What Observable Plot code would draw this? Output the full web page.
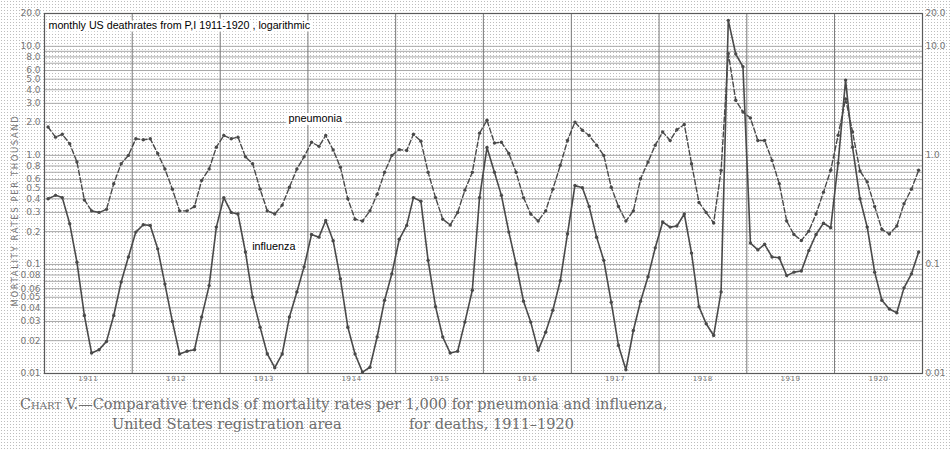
<!DOCTYPE html>
<html>
<head>
<meta charset="utf-8">
<script src="https://cdn.jsdelivr.net/npm/d3@7"></script>
<script src="https://cdn.jsdelivr.net/npm/@observablehq/plot@0.6"></script>
<style>
  html, body { margin: 0; padding: 0; }
  body {
    width: 950px; height: 450px; overflow: hidden;
    background-color: #ffffff;
    background-image: radial-gradient(circle, #bdbdbd 0.6px, rgba(255,255,255,0) 0.9px);
    background-size: 3px 3px;
  }
  #chart svg { display: block; }
  .ylab text { letter-spacing: 1.6px; }
  .yr text { letter-spacing: 0.6px; }
  #caption { position: relative; width: 950px; height: 60px; font-family: "DejaVu Serif", serif; color: #6f6f6f; font-size: 14.5px; }
  #caption div { position: absolute; white-space: nowrap; line-height: 15px; }
  .sc { font-variant: small-caps; }
</style>
</head>
<body>
<div id="chart"></div>
<div id="caption">
  <div style="left:20px; top:7px;"><span class="sc">Chart</span> V.—Comparative trends of mortality rates per 1,000 for pneumonia and influenza,</div>
  <div style="left:112px; top:27px;">United States registration area</div>
  <div style="left:409px; top:27px;">for deaths, 1911–1920</div>
</div>
<script>
// ---- data ----
const years = [1911, 1912, 1913, 1914, 1915, 1916, 1917, 1918, 1919, 1920];

// monthly pneumonia death rates per 1,000 (Jan..Dec per row)
const pneumonia = [
  [1.82, 1.47, 1.56, 1.28, 0.87, 0.39, 0.31, 0.30, 0.32, 0.55, 0.84, 1.00],
  [1.42, 1.39, 1.42, 1.04, 0.75, 0.49, 0.31, 0.31, 0.34, 0.59, 0.75, 1.19],
  [1.52, 1.42, 1.47, 0.97, 0.84, 0.49, 0.31, 0.29, 0.35, 0.51, 0.75, 0.97],
  [1.32, 1.21, 1.52, 1.12, 0.78, 0.40, 0.26, 0.25, 0.31, 0.44, 0.70, 1.00],
  [1.13, 1.11, 1.56, 1.35, 0.70, 0.41, 0.26, 0.23, 0.30, 0.48, 0.70, 1.60],
  [2.10, 1.30, 1.32, 1.04, 0.70, 0.41, 0.29, 0.25, 0.31, 0.49, 0.81, 1.37],
  [2.02, 1.70, 1.52, 1.24, 1.00, 0.51, 0.34, 0.25, 0.31, 0.61, 0.87, 1.24],
  [1.64, 1.37, 1.72, 1.92, 0.84, 0.37, 0.30, 0.24, 0.73, 8.60, 3.20, 2.50],
  [2.20, 1.37, 1.37, 0.90, 0.55, 0.25, 0.188, 0.166, 0.202, 0.29, 0.46, 0.73],
  [1.53, 3.30, 1.64, 0.72, 0.57, 0.34, 0.21, 0.19, 0.225, 0.36, 0.49, 0.73]
];

// monthly influenza death rates per 1,000 (Jan..Dec per row)
const influenza = [
  [0.40, 0.43, 0.41, 0.236, 0.105, 0.034, 0.0154, 0.0165, 0.0197, 0.034, 0.069, 0.117],
  [0.198, 0.231, 0.228, 0.139, 0.066, 0.030, 0.0151, 0.016, 0.0165, 0.033, 0.064, 0.22],
  [0.41, 0.30, 0.29, 0.13, 0.050, 0.0266, 0.0151, 0.0113, 0.0151, 0.033, 0.056, 0.095],
  [0.188, 0.178, 0.253, 0.165, 0.074, 0.0266, 0.0151, 0.0103, 0.0114, 0.0216, 0.047, 0.082],
  [0.17, 0.228, 0.41, 0.38, 0.109, 0.041, 0.0216, 0.0154, 0.016, 0.0296, 0.058, 0.41],
  [1.18, 0.70, 0.43, 0.198, 0.101, 0.046, 0.0296, 0.0163, 0.0239, 0.038, 0.071, 0.191],
  [0.53, 0.505, 0.34, 0.178, 0.109, 0.045, 0.0181, 0.0108, 0.0248, 0.046, 0.077, 0.142],
  [0.245, 0.22, 0.225, 0.29, 0.127, 0.041, 0.0286, 0.0223, 0.056, 17.3, 8.5, 6.5],
  [0.157, 0.136, 0.153, 0.117, 0.115, 0.079, 0.085, 0.087, 0.134, 0.188, 0.239, 0.217],
  [0.85, 4.90, 1.19, 0.40, 0.22, 0.085, 0.047, 0.039, 0.036, 0.061, 0.082, 0.13]
];

const leftTicks = [20, 10, 8, 6, 5, 4, 3, 2, 1, 0.8, 0.6, 0.5, 0.4, 0.3, 0.2, 0.1,
                   0.08, 0.06, 0.05, 0.04, 0.03, 0.02, 0.01];
const rightTicks = [20, 10, 1, 0.1, 0.01];
const gridMultipliers = [1, 2, 3, 4, 5, 6, 7, 8, 9];
const gridDecades = [0.01, 0.1, 1];

const titleText = "monthly US deathrates from P,I 1911-1920 , logarithmic";
const yLabelText = "MORTALITY RATES PER THOUSAND";
const seriesLabels = [
  {name: "pneumonia", date: new Date(Date.UTC(1913, 9, 12)), value: 2.18},
  {name: "influenza", date: new Date(Date.UTC(1913, 4, 14)), value: 0.146}
];

// ---- derived tables ----
const rows = years.flatMap((yr, yi) => d3.range(12).map(m => ({
  date: new Date(Date.UTC(yr, m, 16)),
  pneumonia: pneumonia[yi][m],
  influenza: influenza[yi][m]
})));
const gridValues = gridDecades.flatMap(d => gridMultipliers.map(m => +(m * d).toPrecision(3))).concat([10]);
const yearStarts = years.slice(1).map(y => new Date(Date.UTC(y, 0, 1)));
const yearMids = years.map(y => new Date(Date.UTC(y, 6, 2)));
const fmt = d => d >= 1 ? d.toFixed(1) : String(+d.toPrecision(2));

const ink = "#4a4a4a";

const chart = Plot.plot({
  width: 950,
  height: 390,
  marginLeft: 44,
  marginRight: 28,
  marginTop: 13,
  marginBottom: 17,
  style: {background: "transparent", color: "#767676", fontFamily: "DejaVu Sans, sans-serif", overflow: "visible"},
  x: {type: "utc", domain: [new Date(Date.UTC(1911, 0, 1)), new Date(Date.UTC(1921, 0, 1))], axis: null},
  y: {type: "log", domain: [0.01, 20], axis: null},
  marks: [
    Plot.ruleY(gridValues, {stroke: "#a9a9a9", strokeWidth: 1}),
    Plot.ruleX(yearStarts, {stroke: "#7a7a7a", strokeWidth: 1}),
    Plot.frame({stroke: "#5a5a5a", strokeWidth: 1.2}),
    // left tick labels
    Plot.text(leftTicks, {y: d => d, text: fmt, frameAnchor: "left", textAnchor: "end", dx: -4,
      fontSize: 9, fill: "#777"}),
    // right tick labels
    Plot.text(rightTicks, {y: d => d, text: fmt, frameAnchor: "right", textAnchor: "start", dx: 3,
      fontSize: 9, fill: "#777"}),
    // year labels
    Plot.text(yearMids, {x: d => d, text: d => String(d.getUTCFullYear()), frameAnchor: "bottom",
      lineAnchor: "top", dy: 3, fontSize: 7, fill: "#777", className: "yr"}),
    Plot.text([yLabelText], {frameAnchor: "left", textAnchor: "middle", rotate: -90, dx: -29, dy: 17,
      fontSize: 8.5, fill: "#777", className: "ylab"}),
    Plot.line(rows, {x: "date", y: "pneumonia", stroke: ink, strokeWidth: 1.4, strokeDasharray: "5,2.5"}),
    Plot.dot(rows, {x: "date", y: "pneumonia", r: 1.7, fill: ink}),
    Plot.line(rows, {x: "date", y: "influenza", stroke: ink, strokeWidth: 1.6}),
    Plot.dot(rows, {x: "date", y: "influenza", r: 1.7, fill: ink}),
    Plot.text([titleText], {frameAnchor: "top-left", dx: 4, dy: 12, textAnchor: "start", lineAnchor: "middle",
      fontSize: 10.7, fill: "black", stroke: "white", strokeWidth: 5, fontFamily: "Liberation Sans, Arial, sans-serif"}),
    Plot.text(seriesLabels, {x: "date", y: "value", text: "name", textAnchor: "start", lineAnchor: "middle",
      fontSize: 10.8, fill: "black", stroke: "white", strokeWidth: 6, fontFamily: "Liberation Sans, Arial, sans-serif"})
  ]
});
document.getElementById("chart").append(chart);
</script>
</body>
</html>
